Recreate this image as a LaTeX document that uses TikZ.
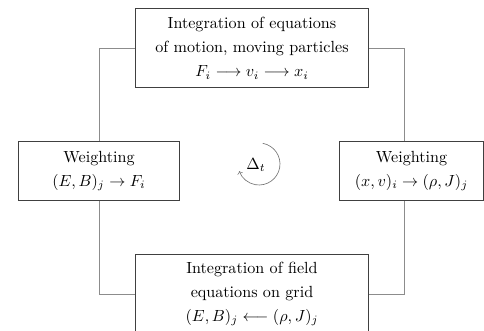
\documentclass[tikz,border=0pt]{standalone}
\usepackage{amsmath}
\begin{document}
\begin{tikzpicture}[x=0.62pt,y=0.62pt,
  box/.style={draw=black!75,line width=0.6pt,align=center,inner sep=0pt,
    font=\fontsize{10}{15}\selectfont},
  link/.style={draw=black!45,line width=0.6pt}]
\useasboundingbox (0,0) rectangle (484,331);

\node[box,minimum width=145pt,minimum height=48.4pt] (motion) at (252,283)
  {Integration of equations\\ of motion, moving particles\\ $F_i \longrightarrow v_i \longrightarrow x_i$};
\node[box,minimum width=100.4pt,minimum height=36pt] (wforce) at (99,160)
  {Weighting\\ $(E,B)_j \to F_i$};
\node[box,minimum width=88.7pt,minimum height=36pt] (wcharge) at (411.5,160)
  {Weighting\\ $(x,v)_i \to (\rho,J)_j$};
\node[box,minimum width=145pt,minimum height=48.4pt] (field) at (252,37)
  {Integration of field\\ equations on grid\\ $(E,B)_j \longleftarrow (\rho,J)_j$};
\coordinate (rjoin) at (404,160);

\draw[link] (motion.west) -| (wforce.north);
\draw[link] (wforce.south) |- (field.west);
\draw[link] (field.east) -| (rjoin |- wcharge.south);
\draw[link] (rjoin |- wcharge.north) |- (motion.east);

% time step loop
\node (dt) at (256,166) {$\Delta_t$};
\draw[black!55,->] (259,167) ++(80:21) arc[start angle=80,end angle=-160,radius=21];
\end{tikzpicture}
\end{document}
